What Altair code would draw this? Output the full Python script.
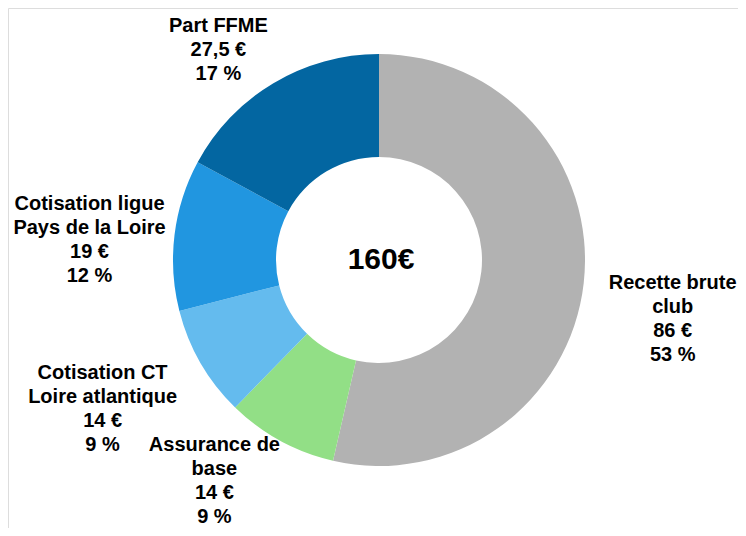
import altair as alt
import pandas as pd

# ---- data ----
categories = ["Recette brute club", "Assurance de base", "Cotisation CT Loire atlantique",
              "Cotisation ligue Pays de la Loire", "Part FFME"]
label_names = ["Recette brute\nclub", "Assurance de\nbase", "Cotisation CT\nLoire atlantique",
               "Cotisation ligue\nPays de la Loire", "Part FFME"]
amounts = [86, 14, 14, 19, 27.5]
percents = [53, 9, 9, 12, 17]
center_label = "160€"

# ---- styling / layout ----
colors = ["#b2b2b2", "#92df86", "#64bbee", "#2196e0", "#0366a1"]
# per-label nudges (px) of the label block centre from the slice mid-angle anchor on the outer rim
label_dx = [89, -66, -98, -85, -55]
label_dy = [36, 40, 46, 5, -33]
LINE_H = 24

def fmt_amount(v):
    s = ("%g" % v).replace(".", ",")
    return s + " €"

labels = [f"{n}\n{fmt_amount(a)}\n{p} %" for n, a, p in zip(label_names, amounts, percents)]

df = pd.DataFrame({
    "category": categories,
    "value": amounts,
    "order": list(range(len(categories))),
    "label": labels,
})

W, H = 730, 520
CX, CY = 371, 252
R_OUT, R_IN = 206, 103

theta = alt.Theta("value:Q", stack=True, scale=alt.Scale(range=[0, 6.283185307179586]))
order = alt.Order("order:O")

arcs = alt.Chart(df).mark_arc(outerRadius=R_OUT, innerRadius=R_IN, strokeWidth=0).encode(
    theta=theta,
    order=order,
    color=alt.Color("category:N", scale=alt.Scale(domain=categories, range=colors), legend=None),
    x=alt.value(CX),
    y=alt.value(CY),
)

layers = [arcs]
for i, cat in enumerate(categories):
    n_lines = labels[i].count("\n") + 1
    t = alt.Chart(df).mark_text(
        radius=R_OUT, font="Liberation Sans", fontWeight="bold", fontSize=20,
        lineHeight=LINE_H, lineBreak="\n", align="center", baseline="middle",
        dx=label_dx[i], dy=label_dy[i] - (n_lines - 1) * LINE_H / 2, color="#000000",
    ).encode(
        theta=theta,
        order=order,
        text=alt.Text("label:N"),
        opacity=alt.condition(alt.datum.category == cat, alt.value(1), alt.value(0)),
        x=alt.value(CX),
        y=alt.value(CY),
    )
    layers.append(t)

center = alt.Chart(pd.DataFrame({"t": [center_label]})).mark_text(
    font="Liberation Sans", fontWeight="bold", fontSize=30, align="center", baseline="middle",
    color="#000000",
).encode(text="t:N", x=alt.value(CX + 2), y=alt.value(CY))
layers.append(center)

chart = alt.layer(*layers).properties(
    width=W, height=H, autosize=alt.AutoSizeParams(type="none"), padding=0
).configure_view(strokeWidth=0, stroke="transparent").configure(background="white")

chart.save("out.html", embed_options={"renderer": "svg", "actions": False})
